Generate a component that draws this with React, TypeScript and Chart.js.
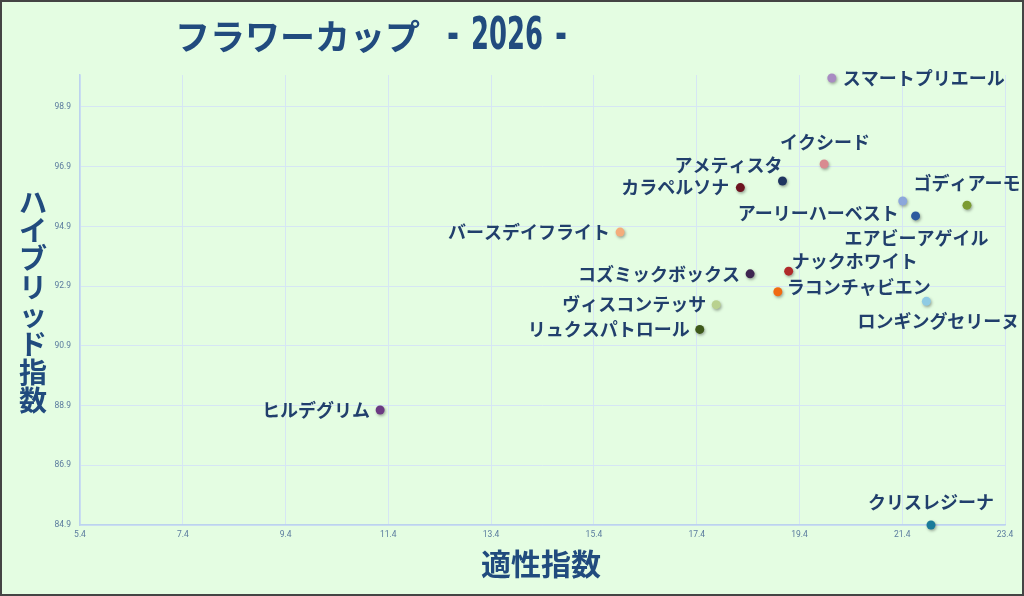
import React, { useEffect, useRef } from 'react';
import { Chart, registerables, ChartConfiguration, Plugin } from 'chart.js';

Chart.register(...registerables);

// horses (labels), indices, colours
const horseNames = [
  'スマートプリエール', 'イクシード', 'アメティスタ', 'カラペルソナ',
  'ゴディアーモ', 'アーリーハーベスト', 'エアビーアゲイル', 'バースデイフライト',
  'ナックホワイト', 'コズミックボックス', 'ラコンチャビエン', 'ロンギングセリーヌ',
  'ヴィスコンテッサ', 'リュクスパトロール', 'ヒルデグリム', 'クリスレジーナ',
];
const aptitudeIndex = [20.03, 19.88, 19.07, 18.25, 22.66, 21.41, 21.66, 15.91, 19.19, 18.44, 18.98, 21.87, 17.78, 17.46, 11.24, 21.96];
const hybridIndex = [99.87, 96.99, 96.42, 96.2, 95.61, 95.75, 95.25, 94.71, 93.4, 93.31, 92.71, 92.39, 92.28, 91.45, 88.75, 84.9];
const pointColors = [
  '#a88bc2', '#d98a90', '#1f3560', '#6e1420', '#7b9b32', '#8ca7db', '#2c5a9e', '#f4ad7c',
  '#b02a2a', '#3e2650', '#f06a12', '#8fcbe4', '#b9d18f', '#3e5a1b', '#6b3a82', '#1b7b9a',
];
const xTicks = [5.4, 7.4, 9.4, 11.4, 13.4, 15.4, 17.4, 19.4, 21.4, 23.4];
const yTicks = [84.9, 86.9, 88.9, 90.9, 92.9, 94.9, 96.9, 98.9];

// label placement per point: [align, dx, dy]
const labelPlacement: [CanvasTextAlign, number, number][] = [
  ['left', 11, 0], ['center', 1, -22], ['right', 0, -16], ['right', -11, 0],
  ['center', 0, -22], ['right', -4, 12], ['center', 1, 22], ['right', -10, 0],
  ['left', 3, -10], ['right', -10, 0], ['left', 9, -5], ['center', 12, 20],
  ['right', -10, 0], ['right', -10, 0], ['right', -10, 0], ['center', 0, -23],
];

const NAVY = '#213f6c';
const TITLE = '#214b7e';
const JP = '"Noto Sans CJK JP", "Noto Sans", sans-serif';

const shadowPlugin: Plugin = {
  id: 'pointShadow',
  beforeDatasetsDraw(chart) {
    const ctx = chart.ctx;
    ctx.save();
    ctx.shadowColor = 'rgba(0,0,0,0.35)';
    ctx.shadowBlur = 3;
    ctx.shadowOffsetX = 1;
    ctx.shadowOffsetY = 1.5;
  },
  afterDatasetsDraw(chart) {
    chart.ctx.restore();
  },
};

const textPlugin: Plugin = {
  id: 'texts',
  afterDraw(chart) {
    const ctx = chart.ctx;
    const meta = chart.getDatasetMeta(0);
    ctx.save();
    // point labels
    ctx.font = `bold 18px ${JP}`;
    ctx.fillStyle = NAVY;
    ctx.textBaseline = 'middle';
    meta.data.forEach((el, i) => {
      const [align, dx, dy] = labelPlacement[i];
      ctx.textAlign = align;
      ctx.fillText(horseNames[i], el.x + dx, el.y + dy);
    });

    // title
    ctx.fillStyle = TITLE;
    ctx.textAlign = 'left';
    ctx.font = `bold 35px ${JP}`;
    ctx.fillText('フラワーカップ', 175, 37);
    ctx.font = 'bold 44px "DejaVu Sans Condensed", "DejaVu Sans", sans-serif';
    ctx.fillText('-', 447, 38, 12);
    ctx.fillText('2026', 471, 38, 72);
    ctx.fillText('-', 555, 38, 12);

    // x axis title
    ctx.textAlign = 'center';
    ctx.font = `bold 30px ${JP}`;
    ctx.fillText('適性指数', 541, 564);

    // y axis title, stacked vertically
    ctx.font = `bold 28px ${JP}`;
    const chars = Array.from('ハイブリッド指数');
    chars.forEach((c, i) => {
      ctx.fillText(c, 33, 202 + i * 28.4);
    });
    ctx.restore();
  },
};

export default function App() {
  const canvasRef = useRef<HTMLCanvasElement>(null);
  const chartRef = useRef<Chart | null>(null);

  useEffect(() => {
    document.body.style.margin = '0';
    if (!canvasRef.current) return;
    if (chartRef.current) chartRef.current.destroy();

    const points = aptitudeIndex.map((x, i) => ({ x, y: hybridIndex[i] }));

    const config: ChartConfiguration = {
      type: 'scatter',
      data: {
        datasets: [{
          data: points,
          backgroundColor: pointColors,
          borderWidth: 0,
          pointRadius: 4.5,
          clip: false,
        }],
      },
      options: {
        responsive: false,
        animation: false,
        layout: { padding: { top: 75, right: 19, left: 0, bottom: 0 } },
        plugins: {
          legend: { display: false },
          tooltip: { enabled: false },
        },
        scales: {
          x: {
            type: 'linear',
            min: 5.4,
            max: 23.4,
            afterBuildTicks: (scale) => { scale.ticks = xTicks.map(value => ({ value })); },
            afterFit: (scale) => { scale.height = 71; },
            grid: { color: '#d6e6f4', drawTicks: false },
            border: { color: '#bcd3ee', width: 1.5 },
            ticks: {
              color: '#5a7b9e',
              font: { size: 8.5, family: 'Roboto' },
              padding: 5,
              maxRotation: 0,
              autoSkip: false,
              callback: (v) => Number(v).toFixed(1),
            },
          },
          y: {
            type: 'linear',
            min: 84.9,
            max: 99.97,
            afterBuildTicks: (scale) => { scale.ticks = yTicks.map(value => ({ value })); },
            afterFit: (scale) => { scale.width = 80; },
            grid: { color: '#d6e6f4', drawTicks: false },
            border: { color: '#bcd3ee', width: 1.5 },
            ticks: {
              color: '#5a7b9e',
              font: { size: 8.5, family: 'Roboto' },
              padding: 9,
              autoSkip: false,
              callback: (v) => Number(v).toFixed(1),
            },
          },
        },
      },
      plugins: [shadowPlugin, textPlugin],
    };

    chartRef.current = new Chart(canvasRef.current, config);
    return () => {
      if (chartRef.current) {
        chartRef.current.destroy();
        chartRef.current = null;
      }
    };
  }, []);

  return (
    <div style={{ position: 'relative', width: 1024, height: 596, background: '#e4fde2' }}>
      <canvas ref={canvasRef} width={1024} height={596} style={{ position: 'absolute', left: 0, top: 0 }} />
      <div style={{
        position: 'absolute', inset: 0, border: '2px solid #444', boxSizing: 'border-box', pointerEvents: 'none',
      }} />
    </div>
  );
}
